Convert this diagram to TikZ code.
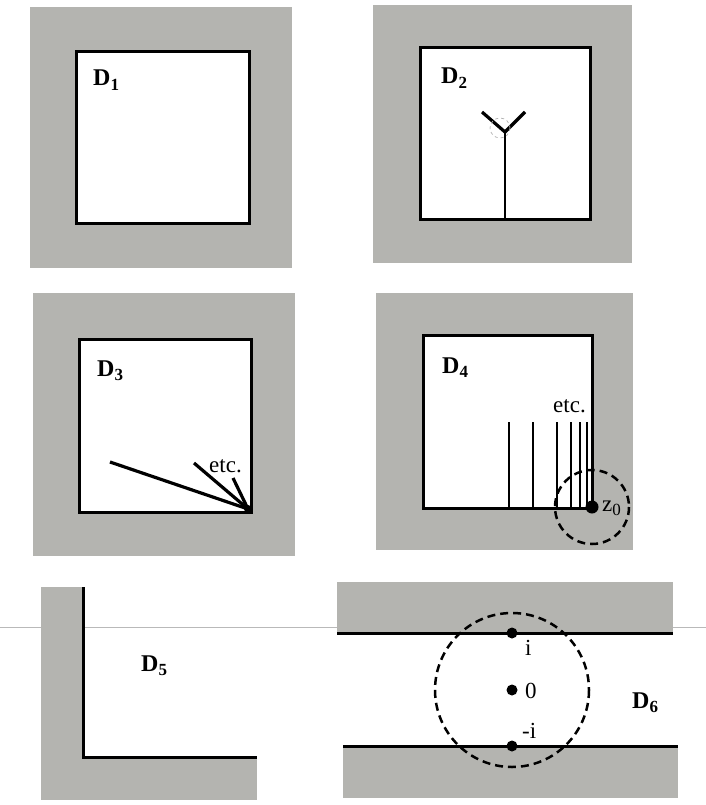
\documentclass[tikz,border=0pt]{standalone}
\usepackage{fontspec}
\setmainfont{Liberation Serif}
\definecolor{shade}{RGB}{180,180,176}
\newcommand\dsub[1]{\raisebox{-0.4ex}{\fontsize{17}{17}\selectfont #1}}
\tikzset{
  shaded/.style={fill=shade, draw=none},
  edgeline/.style={line width=3pt, line cap=rect, line join=miter},
  cutline/.style={line width=3.2pt, line cap=butt},
  thincut/.style={line width=2.3pt, line cap=butt},
  dashcirc/.style={line width=2.5pt, dash pattern=on 8pt off 5pt},
  lab/.style={font=\fontsize{23}{25}\selectfont, inner sep=0pt, anchor=base west},
  dlab/.style={lab, font=\fontsize{24}{26}\selectfont\bfseries},
  dot/.style={circle, fill=black, inner sep=0pt, minimum size=11pt}
}
\begin{document}
\begin{tikzpicture}[x=1pt, y=-1pt]
\useasboundingbox (0,0) rectangle (706,805);
\fill[white] (0,0) rectangle (706,805);

% ---------- D1 ----------
\fill[shaded] (30,7) rectangle (292,268);
\filldraw[fill=white, edgeline] (76,52) rectangle (249,223);
\node[dlab] (d1) at (93,86) {D\dsub{1}};

% ---------- D2 ----------
\fill[shaded] (373,5) rectangle (632,263);
\filldraw[fill=white, edgeline] (420,48) rectangle (590,219);
\node[dlab] (d2) at (441,84) {D\dsub{2}};
\coordinate (yj) at (505,132);
\coordinate (yb) at (505,219);
\coordinate (yl) at (482,112);
\coordinate (yr) at (525,112);
\draw[thincut] (yb) -- (yj);
\draw[cutline, line join=miter] (yl) -- (yj) -- (yr);
\draw[gray!60, dashed, line width=0.7pt] (500,128) circle (10);

% ---------- D3 ----------
\fill[shaded] (33,293) rectangle (295,556);
\filldraw[fill=white, edgeline] (79,339) rectangle (251,512);
\node[dlab] (d3) at (97,376) {D\dsub{3}};
\coordinate (c3) at (248,509);
\coordinate (r1) at (110,462);
\coordinate (r2) at (194,463);
\coordinate (r3) at (233,478);
\draw[cutline] (c3) -- (r1);
\draw[cutline] (c3) -- (r2);
\draw[cutline] (c3) -- (r3);
\fill (c3) circle (4);
\node[lab] (etc3) at (209,472) {etc.};

% ---------- D4 ----------
\fill[shaded] (376,293) rectangle (633,550);
\filldraw[fill=white, edgeline] (423,335) rectangle (592,508);
\node[dlab] (d4) at (442,373) {D\dsub{4}};
\foreach \xx in {509,533,557,571,580,587}{
  \coordinate (t\xx) at (\xx,422);
  \coordinate (b\xx) at (\xx,508);
  \draw[thincut] (b\xx) -- (t\xx);
}
\node[lab] (etc4) at (553,412) {etc.};
\node[dot, minimum size=13pt] (z0) at (592,507) {};
\draw[dashcirc] (z0.center) circle (37);
\node[lab] (z0l) at (602,511) {z\dsub{0}};

% ---------- scan line ----------
\draw[gray!55, line width=0.5pt] (0,627) -- (706,627);

% ---------- D5 ----------
\fill[shaded] (41,587) rectangle (83,800);
\fill[shaded] (41,757) rectangle (257,800);
\coordinate (l5a) at (83,587);
\coordinate (l5b) at (83,757);
\coordinate (l5c) at (257,757);
\draw[edgeline, line cap=butt] (l5a) -- (l5b) -- (l5c);
\node[dlab] (d5) at (141,671) {D\dsub{5}};

% ---------- D6 ----------
\fill[shaded] (337,582) rectangle (673,633);
\fill[shaded] (343,746) rectangle (678,798);
\coordinate (u1) at (337,633);
\coordinate (u2) at (673,633);
\coordinate (w1) at (343,746);
\coordinate (w2) at (678,746);
\draw[edgeline, line cap=butt] (u1) -- (u2);
\draw[edgeline, line cap=butt] (w1) -- (w2);
\node[dot] (pi) at (512,633) {};
\node[dot] (p0) at (512,690) {};
\node[dot] (pmi) at (512,746) {};
\draw[dashcirc] (p0.center) circle (77);
\node[lab] (li) at (525,655) {i};
\node[lab] (l0) at (525,698) {0};
\node[lab] (lmi) at (522,738) {-i};
\node[dlab] (d6) at (632,708) {D\dsub{6}};
\end{tikzpicture}
\end{document}
